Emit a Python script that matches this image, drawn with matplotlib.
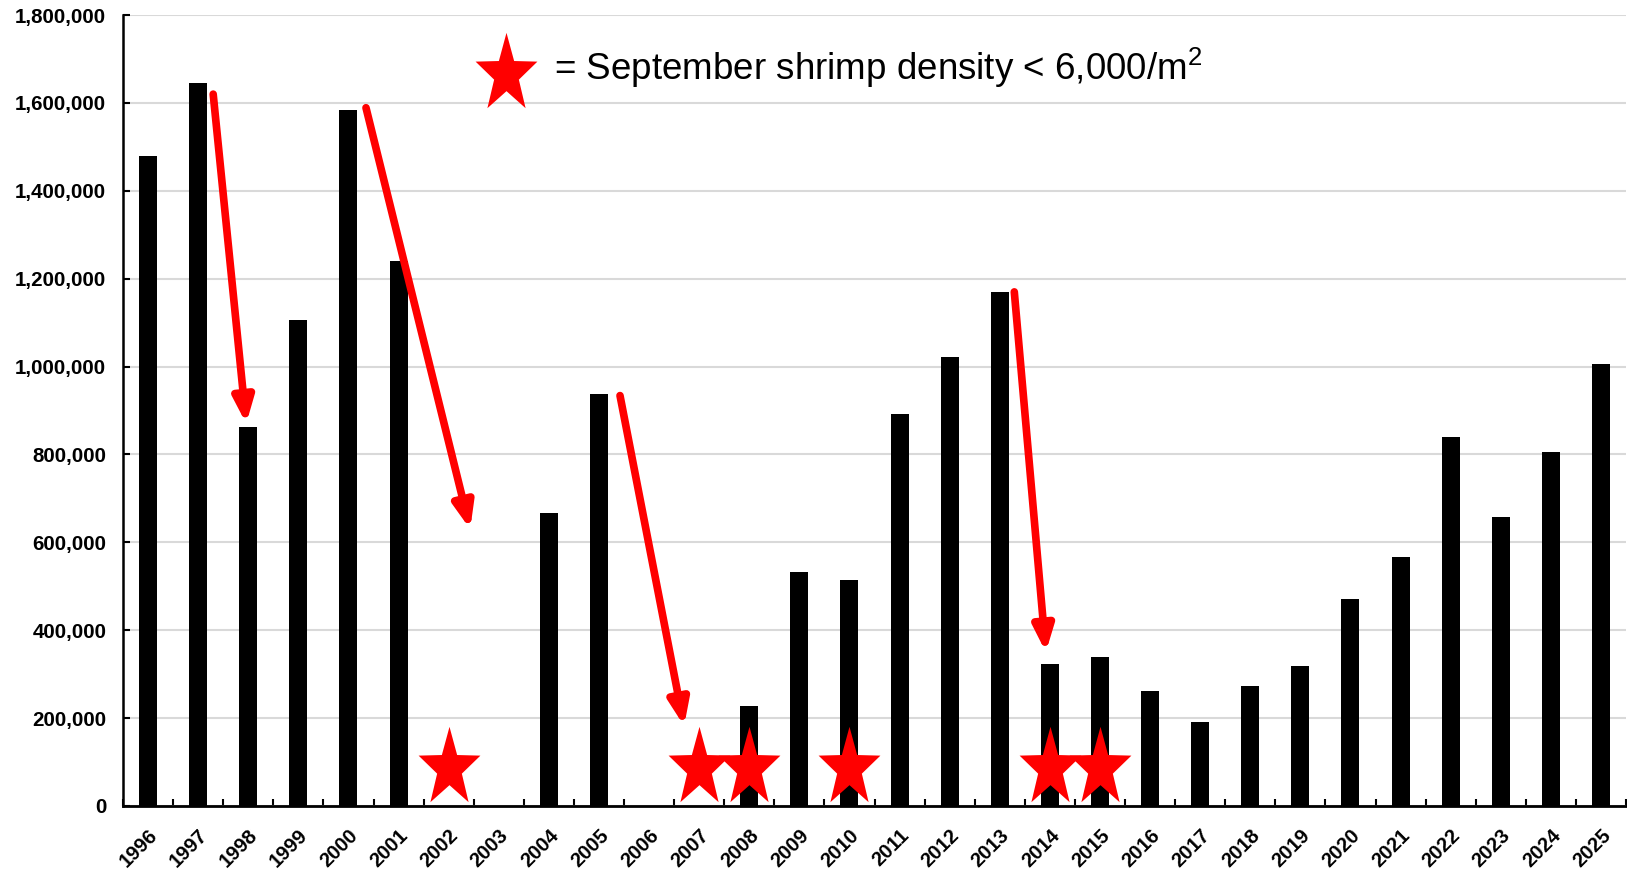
import numpy as np
import matplotlib.pyplot as plt
from matplotlib.patches import FancyArrowPatch
from matplotlib.ticker import FuncFormatter, MultipleLocator

plt.rcParams['font.family'] = ['Liberation Sans', 'DejaVu Sans']
plt.rcParams['font.weight'] = 'bold'
plt.rcParams['xtick.labelsize'] = 14.5
plt.rcParams['ytick.labelsize'] = 14.8
plt.rcParams['mathtext.default'] = 'regular'

years = list(range(1996, 2026))
counts = [1480000, 1645000, 863000, 1106000, 1584000, 1241000, 0, 0,
          667000, 938000, 0, 0, 227000, 532000, 515000, 891000,
          1021000, 1170000, 324000, 338000, 262000, 191000, 272000, 319000,
          470000, 567000, 839000, 657000, 806000, 1005000]

# years with September shrimp density < 6,000/m2
star_years = [2002, 2007, 2008, 2010, 2014, 2015]
star_level = 87000

# arrows: (start year, start value, end year, end value)
arrows = [(1997.30, 1620000, 1997.96, 870000),
          (2000.35, 1589000, 2002.43, 630000),
          (2005.42, 934000, 2006.70, 182000),
          (2013.29, 1170000, 2013.92, 350000)]

legend_text = "= September shrimp density < 6,000/m$^{2}$"

x = np.arange(len(years))

fig = plt.figure(figsize=(16.27, 8.69), dpi=100)
ax = fig.add_axes([0.0756, 0.0725, 0.9238, 0.9102])

ax.bar(x, counts, width=0.36, color='black', zorder=3)

# 5-point star marker, a bit narrower than a regular one
ang = np.pi / 2 + np.arange(10) * np.pi / 5
rad = np.where(np.arange(10) % 2 == 0, 1.0, 0.40)
star = np.column_stack([rad * np.cos(ang) * 0.78, rad * np.sin(ang)])
star = np.vstack([star, star[:1]])

sx = [years.index(y) for y in star_years]
ax.plot(sx, [star_level] * len(sx), linestyle='none', marker=star,
        markersize=60, color='#ff0000', markeredgewidth=0, zorder=5)

for x0, y0, x1, y1 in arrows:
    a = FancyArrowPatch((x0 - years[0], y0), (x1 - years[0], y1),
                        arrowstyle='-|>,head_length=1.5,head_width=0.6',
                        mutation_scale=10, color='#ff0000', linewidth=5.5,
                        shrinkA=0, shrinkB=0, zorder=6)
    ax.add_patch(a)

# legend star and text
ax.plot([0.2548], [0.925], transform=ax.transAxes, linestyle='none',
        marker=star, markersize=60, color='#ff0000', markeredgewidth=0,
        clip_on=False, zorder=6)
ax.text(0.287, 0.933, legend_text, transform=ax.transAxes, fontsize=26.5,
        fontweight='normal', va='center', ha='left')

ax.set_xlim(-0.5, len(years) - 0.5)
ax.set_ylim(0, 1800000)
ax.yaxis.set_major_locator(MultipleLocator(200000))
ax.yaxis.set_major_formatter(FuncFormatter(lambda v, p: f"{int(v):,}"))
ax.grid(axis='y', color='#d9d9d9', linewidth=1.5, zorder=0)

ax.set_xticks(x)
ax.set_xticklabels([str(y) for y in years], rotation=45, ha='right',
                   rotation_mode='anchor')
ax.set_xticks(np.arange(-0.5, len(years)), minor=True)
ax.tick_params(axis='x', which='major', length=0, pad=14)
ax.tick_params(axis='x', which='minor', direction='in', length=5, width=1.5)
ax.tick_params(axis='y', direction='in', length=5, width=1.5, pad=12)

for s in ['top', 'right']:
    ax.spines[s].set_visible(False)
ax.spines['left'].set_linewidth(1.8)
ax.spines['bottom'].set_linewidth(2)
ax.spines['bottom'].set_zorder(7)

fig.savefig('out.png', dpi=100)
